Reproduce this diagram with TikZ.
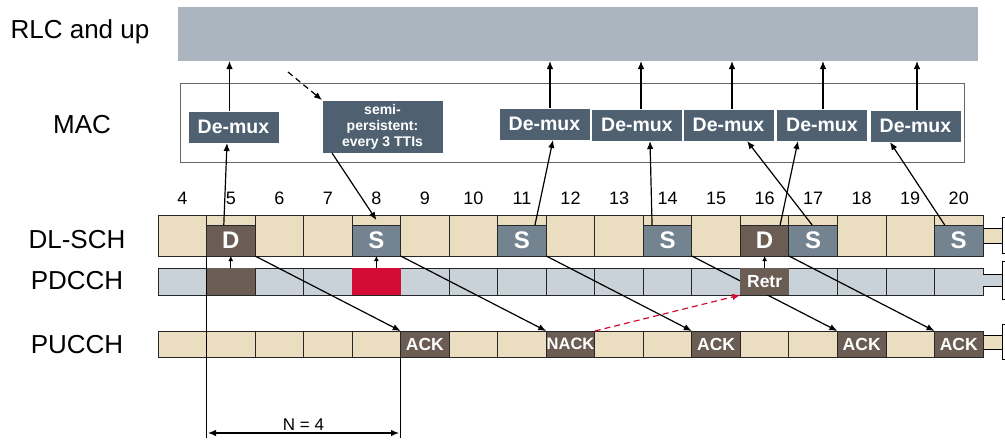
\documentclass[tikz,border=0pt]{standalone}
\usepackage{fontspec}
\setmainfont{Liberation Sans}
\usetikzlibrary{calc}
\usetikzlibrary{arrows.meta}
\usepackage{color}

\definecolor{slotbeige}{RGB}{235,221,191}
\definecolor{ctrlgrey}{RGB}{201,209,217}
\definecolor{dynbrown}{RGB}{107,93,83}
\definecolor{spsgrey}{RGB}{115,131,143}
\definecolor{muxblue}{RGB}{79,97,113}
\definecolor{rlcgrey}{RGB}{170,181,191}
\definecolor{retxred}{RGB}{210,12,52}

\newcommand{\tti}{48.53} % width of one TTI in px
\newcommand{\slotrow}[4] % name, top y, height, fill
{
	\foreach \n in {4,...,20}
		\node[slot, fill=#4, minimum height=#3] (#1\n) at ({158+(\n-3.5)*\tti}, {#2+#3/2}) {};
}
\newcommand{\rowend}[4] % top y, height, fill, half height of the break mark
{
	% stub sticking out of the row
	\draw[fill=#3, line width=0.8pt] (983,#1) -- (1002,#1) -- (1002,{#1+#2}) -- (983,{#1+#2});
	% break mark
	\draw[line width=0.8pt] (1005,{#1+#2/2-#4}) -- (1002,{#1+#2/2-#4}) -- (1002,{#1+#2/2+#4}) -- (1005,{#1+#2/2+#4});
}

\begin{document}
\begin{tikzpicture}[x=1pt, y=-1pt, >={Latex[length=8pt,width=6.5pt]},
	every node/.style={inner sep=0pt, outer sep=0pt},
	layername/.style={font=\fontsize{26}{30}\selectfont},
	ttinum/.style={font=\fontsize{18}{20}\selectfont},
	slot/.style={draw=black!85, line width=0.8pt, minimum width=48.53pt},
	tticell/.style={draw=black!85, line width=0.9pt, minimum width=48.53pt, text=white, font=\bfseries\fontsize{24}{26}\selectfont},
	dynbox/.style={tticell, fill=dynbrown, minimum height=31pt},
	spsbox/.style={tticell, fill=spsgrey, minimum height=31pt},
	ackbox/.style={tticell, fill=dynbrown, minimum height=26pt, font=\bfseries\fontsize{17.5}{19}\selectfont},
	dcibox/.style={minimum width=48.53pt, minimum height=27pt},
	muxbox/.style={draw=white, line width=0.5pt, fill=muxblue, text=white, minimum width=91pt, minimum height=32pt, font=\bfseries\fontsize{19.5}{21}\selectfont},
	link/.style={->, line width=1.2pt},
	shortlink/.style={-{Latex[length=5pt,width=5pt]}, line width=1.2pt}]
	\useasboundingbox (0,0) rectangle (1005,440);

	% layers
	\node[fill=rlcgrey, minimum width=800pt, minimum height=54pt] (rlc) at (578,34) {};
	\node[draw=black!60, line width=0.8pt, minimum width=784pt, minimum height=79pt] (mac) at (572,122.5) {};
	\node[layername] (rlclbl) at (80,32) {RLC and up};
	\node[layername] (maclbl) at (82,125) {MAC};
	\node[layername] (dllbl) at (77,240) {DL-SCH};
	\node[layername] (pdlbl) at (77,281) {PDCCH};
	\node[layername] (pulbl) at (77,345) {PUCCH};

	% de-multiplexers
	\node[muxbox] (mux0) at (233.5,127) {De-mux};
	\node[muxbox] (mux1) at (544.5,124) {De-mux};
	\node[muxbox] (mux2) at (637,125) {De-mux};
	\node[muxbox] (mux3) at (728.5,125) {De-mux};
	\node[muxbox] (mux4) at (822,125) {De-mux};
	\node[muxbox] (mux5) at (915.5,126) {De-mux};
	\node[muxbox, minimum width=121pt, minimum height=53pt, align=center, font=\bfseries\fontsize{14}{16}\selectfont] (sps) at (382.5,126.5) {semi-\\persistent:\\every 3 TTIs};

	% TTI numbers and rows
	\foreach \n in {4,...,20}
		\node[ttinum] (t\n) at ({158+(\n-3.5)*\tti},198) {\n};
	\slotrow{dl}{215}{41}{slotbeige}
	\slotrow{pd}{268}{27}{ctrlgrey}
	\slotrow{pu}{331}{26}{slotbeige}
	\rowend{228}{15}{slotbeige}{18}
	\rowend{274}{12}{ctrlgrey}{19}
	\rowend{335}{14}{slotbeige}{17.5}

	% DL-SCH transmissions
	\node[dynbox, anchor=south] (d5) at (dl5.south) {D};
	\node[spsbox, anchor=south] (s8) at (dl8.south) {S};
	\node[spsbox, anchor=south] (s11) at (dl11.south) {S};
	\node[spsbox, anchor=south] (s14) at (dl14.south) {S};
	\node[dynbox, anchor=south] (d16) at (dl16.south) {D};
	\node[spsbox, anchor=south] (s17) at (dl17.south) {S};
	\node[spsbox, anchor=south] (s20) at (dl20.south) {S};

	% PDCCH assignments
	\node[dcibox, fill=dynbrown] (dci5) at (pd5) {};
	\node[dcibox, fill=retxred] (dci8) at (pd8) {};

	% PUCCH feedback
	\node[ackbox] (ack9) at (pu9) {ACK};
	\node[ackbox, font=\bfseries\fontsize{16.5}{18}\selectfont] (nack12) at (pu12) {NACK};
	\node[ackbox] (ack15) at (pu15) {ACK};
	\node[ackbox] (ack18) at (pu18) {ACK};
	\node[ackbox] (ack20) at (pu20) {ACK};

	% MAC up to RLC
	\foreach \m/\dx in {0/-4, 1/5.5, 2/4, 3/3.5, 4/1, 5/1.5}
		\draw[link] ($(mux\m.north)+(\dx,0)$) -- ($(mux\m.north |- rlc.south)+(\dx,0)$);

	% DL-SCH up to MAC
	\draw[link] ($(d5.north)+(-7,0)$) -- ($(mux0.south)+(-6.5,0)$);
	\draw[link] ($(s11.north)+(13,0)$) -- ($(mux1.south)+(8.5,0)$);
	\draw[link] ($(s14.north)+(-15.5,0)$) -- ($(mux2.south)+(13,0)$);
	\draw[link] ($(d16.north)+(15.5,0)$) -- ($(mux4.south)+(-24,0)$);
	\draw[link] ($(s17.north)+(-1,0)$) -- ($(mux3.south)+(18.5,0)$);
	\draw[link] ($(s20.north)+(-14,0)$) -- ($(mux5.south)+(-25.5,0)$);
	\draw[link] ($(sps.south)+(-50.5,0)$) -- ($(s8.north)+(0,-5)$);
	\coordinate (spsfrom) at (288,72);
	\draw[link, dash pattern=on 6pt off 4pt] (spsfrom) -- (sps.north west);

	% HARQ feedback, N = 4 TTIs later
	\draw[link] (d5.south east) -- (ack9.north west);
	\draw[link] (s8.south east) -- (nack12.north west);
	\draw[link] (s11.south east) -- (ack15.north west);
	\draw[link] (s14.south east) -- (ack18.north west);
	\draw[link] (d16.south east) -- (ack20.north west);

	% retransmission
	\node[dcibox, fill=dynbrown, text=white, font=\bfseries\fontsize{17.5}{19}\selectfont] (retr) at (pd16) {Retr};
	\draw[shortlink] (dci5.north) -- (d5.south);
	\draw[shortlink] (dci8.north) -- (s8.south);
	\draw[shortlink] (retr.north) -- (d16.south);
	\draw[link, retxred, dash pattern=on 6pt off 4pt] (nack12.north east) -- (retr.south west);

	% round trip
	\draw[line width=0.8pt] (dl5.south west) -- ++(0,182);
	\draw[line width=0.8pt] (ack9.south west) -- ++(0,81);
	\coordinate (nleft) at (208,433);
	\coordinate (nright) at (399,433);
	\draw[<->, line width=1.2pt] (nleft) -- node[above=3pt, font=\fontsize{17}{19}\selectfont] (nlbl) {N = 4} (nright);
\end{tikzpicture}
\end{document}
